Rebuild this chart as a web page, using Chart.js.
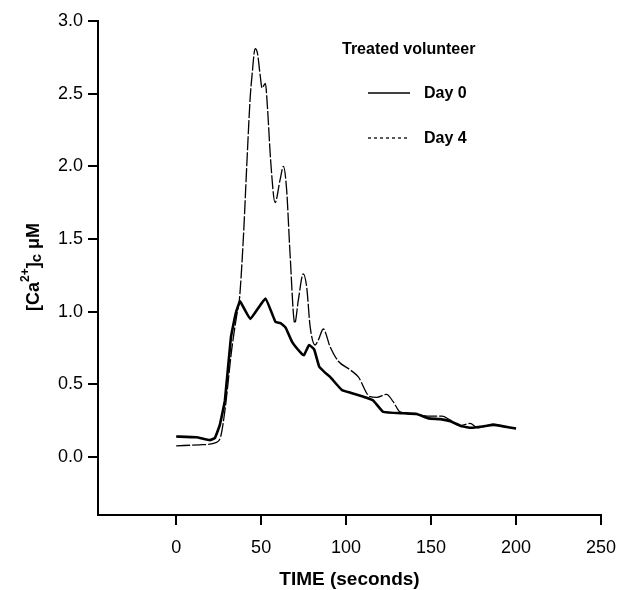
<!DOCTYPE html>
<html>
<head>
<meta charset="utf-8">
<script src="https://cdn.jsdelivr.net/npm/chart.js@4"></script>
<style>
  html, body { margin: 0; padding: 0; background: #fff; }
  #wrap { width: 619px; height: 590px; position: relative; }
</style>
</head>
<body>
<div id="wrap"><canvas id="c"></canvas></div>
<script>
// time axis (seconds) and [Ca2+]c (uM)
const day0Time = [0, 11.9, 19.8, 22.8, 25.7, 28.7, 32.2, 35.1, 37.6, 43.6, 52.5, 58.4, 61.4, 64.4, 68.3, 73.8, 75.2, 78.2, 81.2, 84.2,
  87.6, 90.6, 97.5, 103, 109.9, 115.8, 121.8, 133.7, 141.6, 148.5, 155.4, 161.4, 168.3, 173.7, 180.7, 186.6, 192.6, 200];
const day0Ca = [0.14, 0.135, 0.115, 0.13, 0.22, 0.39, 0.82, 0.99, 1.07, 0.95, 1.09, 0.93, 0.92, 0.89, 0.79, 0.71, 0.70, 0.77, 0.74, 0.62,
  0.58, 0.55, 0.46, 0.44, 0.415, 0.39, 0.31, 0.30, 0.295, 0.265, 0.26, 0.245, 0.21, 0.20, 0.21, 0.22, 0.21, 0.195];

const day4Time = [0, 13.9, 23.8, 26.2, 28.7, 32.7, 36, 37.2, 39.6, 41.6, 43.6, 44.6, 46.5, 47.8, 49.5, 50.5, 52.5, 53.7, 55.6,
  58.2, 61.2, 63.1, 65, 67, 69.8, 71.9, 74.8, 76.8, 78.8, 81.7, 83.7, 86.6, 90.5, 95.3, 102.3, 107.2,
  114, 118, 123.8, 127.7, 131.7, 139.6, 149.5, 156.4, 161, 166.9, 172.9, 177.7, 186.5, 192.5, 200];
const day4Ca = [0.076, 0.083, 0.10, 0.14, 0.32, 0.74, 1.0, 1.08, 1.52, 2.02, 2.48, 2.62, 2.81, 2.78, 2.62, 2.54, 2.57, 2.41, 2.04,
  1.75, 1.91, 2.0, 1.84, 1.40, 0.92, 1.08, 1.26, 1.17, 0.90, 0.77, 0.805, 0.88, 0.76, 0.66, 0.60, 0.55,
  0.415, 0.41, 0.43, 0.38, 0.31, 0.295, 0.28, 0.28, 0.255, 0.215, 0.23, 0.20, 0.225, 0.21, 0.195];

const xTicks = [0, 50, 100, 150, 200, 250];
const yTicks = [0.0, 0.5, 1.0, 1.5, 2.0, 2.5, 3.0];

const seriesNames = ["Day 0", "Day 4"];
const legendTitle = "Treated volunteer";
const xTitle = "TIME (seconds)";

const toPoints = (xs, ys) => xs.map((x, i) => ({ x: x, y: ys[i] }));

const FAMILY = "'Liberation Sans', Arial, sans-serif";

// titles + legend drawn by hand (superscript / subscript in y title)
const textPlugin = {
  id: "textPlugin",
  afterDraw(chart) {
    const ctx = chart.ctx;
    const area = chart.chartArea;
    ctx.save();
    ctx.fillStyle = "#000";
    ctx.strokeStyle = "#000";

    // x title
    ctx.font = "bold 19px " + FAMILY;
    ctx.textAlign = "center";
    ctx.textBaseline = "middle";
    ctx.fillText(xTitle, (area.left + area.right) / 2, 580);

    // y title, rotated
    ctx.save();
    ctx.translate(34, 267);
    ctx.rotate(-Math.PI / 2);
    const big = "bold 18px " + FAMILY;
    const parts = [
      { t: "[Ca", f: big, dy: 0 },
      { t: "2+", f: "bold 12px " + FAMILY, dy: -8 },
      { t: "]", f: big, dy: 0 },
      { t: "c", f: "bold 15px " + FAMILY, dy: 3 },
      { t: " \u03bcM", f: big, dy: 0 },
    ];
    let total = 0;
    parts.forEach(p => { ctx.font = p.f; p.w = ctx.measureText(p.t).width; total += p.w; });
    let px = -total / 2;
    ctx.textAlign = "left";
    ctx.textBaseline = "middle";
    parts.forEach(p => { ctx.font = p.f; ctx.fillText(p.t, px, p.dy); px += p.w; });
    ctx.restore();

    // legend
    ctx.font = "bold 16px " + FAMILY;
    ctx.textAlign = "left";
    ctx.textBaseline = "middle";
    ctx.fillText(legendTitle, 342, 50);
    ctx.fillText(seriesNames[0], 424, 94);
    ctx.fillText(seriesNames[1], 424, 139);
    ctx.lineWidth = 1.5;
    ctx.beginPath();
    ctx.moveTo(368, 93);
    ctx.lineTo(410, 93);
    ctx.stroke();
    ctx.setLineDash([3, 3]);
    ctx.lineWidth = 1.3;
    ctx.beginPath();
    ctx.moveTo(368, 138);
    ctx.lineTo(410, 138);
    ctx.stroke();
    ctx.restore();
  },
};

const tickFont = { family: FAMILY, size: 18 };

new Chart(document.getElementById("c"), {
  type: "line",
  data: {
    datasets: [
      {
        label: seriesNames[0],
        data: toPoints(day0Time, day0Ca),
        borderColor: "#000",
        borderWidth: 2.6,
        pointRadius: 0,
        tension: 0.1,
        fill: false,
      },
      {
        label: seriesNames[1],
        data: toPoints(day4Time, day4Ca),
        borderColor: "#000",
        borderWidth: 1.3,
        borderDash: [14, 2],
        pointRadius: 0,
        cubicInterpolationMode: "monotone",
        fill: false,
      },
    ],
  },
  options: {
    responsive: true,
    maintainAspectRatio: false,
    animation: false,
    layout: { padding: { top: 21, right: 18, left: 0, bottom: 0 } },
    plugins: {
      legend: { display: false },
      tooltip: { enabled: false },
    },
    scales: {
      x: {
        type: "linear",
        min: -46,
        max: 250,
        afterBuildTicks: (s) => { s.ticks = xTicks.map(v => ({ value: v })); },
        afterFit: (s) => { s.height = 75; s.paddingRight = 0; s.paddingLeft = 0; },
        grid: { drawOnChartArea: false, drawTicks: true, tickLength: 10, color: "#000", lineWidth: 2 },
        border: { color: "#000", width: 2 },
        ticks: { color: "#000", font: tickFont, padding: 12, maxRotation: 0 },
      },
      y: {
        type: "linear",
        min: -0.4,
        max: 3.0,
        afterBuildTicks: (s) => { s.ticks = yTicks.map(v => ({ value: v })); },
        afterFit: (s) => { s.width = 98; s.paddingTop = 0; s.paddingBottom = 0; },
        grid: { drawOnChartArea: false, drawTicks: true, tickLength: 10, color: "#000", lineWidth: 2 },
        border: { color: "#000", width: 2 },
        ticks: { color: "#000", font: tickFont, padding: 5, callback: (v) => Number(v).toFixed(1) },
      },
    },
  },
  plugins: [textPlugin],
});
</script>
</body>
</html>
